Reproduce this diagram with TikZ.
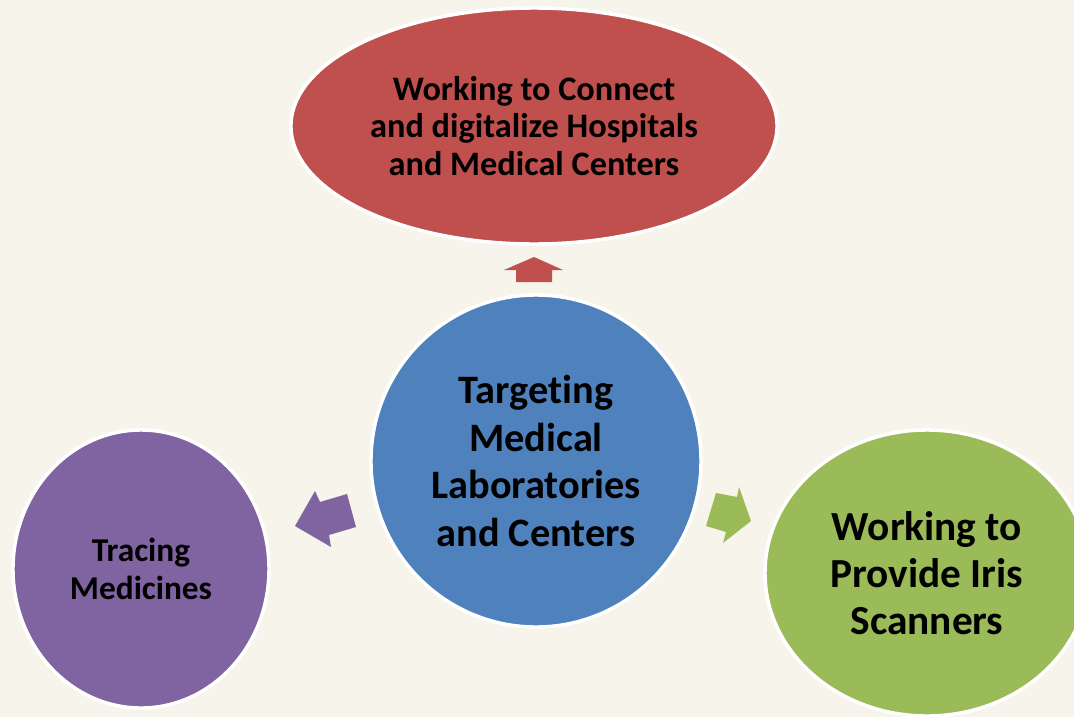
\documentclass[tikz,border=0pt]{standalone}
\usepackage{fontspec}
\setmainfont{Carlito}[Ligatures={NoCommon}]
\usetikzlibrary{shapes.geometric}

\definecolor{paper}{HTML}{F7F4EB}
\definecolor{hospred}{HTML}{C0504D}
\definecolor{labblue}{HTML}{4F81BD}
\definecolor{medpurple}{HTML}{8064A2}
\definecolor{irisgreen}{HTML}{9BBB59}

\tikzset{
  bubble/.style={ellipse, draw=white, line width=2.5pt, inner sep=0pt, align=center, text=black},
  blockarrow/.style={draw=none},
}

\begin{document}
\begin{tikzpicture}[x=0.025cm, y=-0.025cm]
  \useasboundingbox (0,0) rectangle (1074,717);
  \clip (0,0) rectangle (1074,717);
  \fill[paper] (0,0) rectangle (1074,717);

  % the four bubbles
  \node[bubble, fill=hospred, minimum width=12.15cm, minimum height=5.9cm,
        font=\fontsize{24.4pt}{26.7pt}\selectfont\bfseries] (hosp) at (534,126)
        {Working to Connect\\and digitalize Hospitals\\and Medical Centers};
  \node[bubble, fill=labblue, minimum width=8.25cm, minimum height=8.3cm,
        font=\fontsize{28.7pt}{33.8pt}\selectfont\bfseries] (labs) at (536,461)
        {Targeting\\Medical\\Laboratories\\and Centers};
  \node[bubble, fill=medpurple, minimum width=6.4cm, minimum height=6.95cm,
        font=\fontsize{23.7pt}{27pt}\selectfont\bfseries] (meds) at (141,569)
        {Tracing\\Medicines};
  \node[bubble, fill=irisgreen, minimum width=8.1cm, minimum height=7.15cm,
        font=\fontsize{29.4pt}{33.4pt}\selectfont\bfseries] (iris) at (927,573)
        {Working to\\Provide Iris\\Scanners};

  % block arrows
  \fill[blockarrow, hospred] (534,257) -- (563,270) -- (552,270) -- (552,282)
    -- (516,282) -- (516,270) -- (504,270) -- cycle;
  \fill[blockarrow, medpurple] (295,526) -- (315,491) -- (320,502) -- (347,494)
    -- (356,527) -- (329,535) -- (331,547) -- cycle;
  \fill[blockarrow, irisgreen] (751,521) -- (723,543) -- (726,532) -- (706,526)
    -- (716,493) -- (737,497) -- (739,487) -- cycle;
\end{tikzpicture}
\end{document}
